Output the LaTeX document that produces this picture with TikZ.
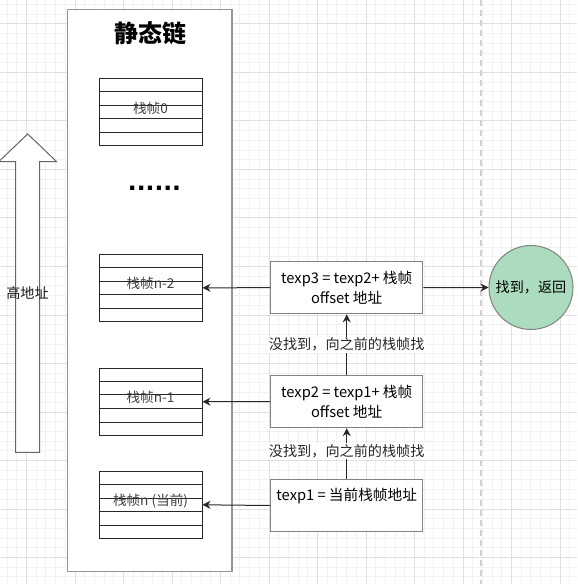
\documentclass[tikz,border=0pt]{standalone}
\usepackage{fontspec}
\setmainfont{Noto Sans CJK SC}
\newfontfamily\dotfont{DejaVu Sans}
\usetikzlibrary{arrows.meta,calc}
\definecolor{gminor}{RGB}{241,241,241}
\definecolor{gmajor}{RGB}{224,224,224}
\definecolor{okgreen}{RGB}{172,220,190}
\definecolor{lineg}{RGB}{40,40,40}
\definecolor{boxg}{RGB}{130,130,130}
\begin{document}
\begin{tikzpicture}[x=0.75pt,y=-0.75pt,
  gridmin/.style={draw=gminor,line width=0.75pt},
  gridmaj/.style={draw=gmajor,line width=0.75pt},
  container/.style={draw=boxg!85,line width=1.3pt,fill=white,minimum width=123.4pt,minimum height=421.5pt,inner sep=0pt},
  stackframe/.style={draw=black!85,line width=0.75pt,fill=white,minimum width=77.25pt,minimum height=50pt,inner sep=0pt},
  flabel/.style={inner sep=0pt,text=black!75,font=\fontsize{10.2}{12}\selectfont},
  texpbox/.style={draw=boxg,line width=1pt,fill=white,minimum width=114pt,minimum height=39pt,inner sep=0pt,align=center,font=\fontsize{11}{15}\selectfont,text=black},
  steplabel/.style={fill=white,inner sep=1pt,font=\fontsize{10.6}{12}\selectfont,text=black!85},
  arr/.style={draw=lineg,line width=0.75pt,-{Stealth[length=6pt,width=6pt]}},
  donecircle/.style={circle,draw=boxg,line width=0.75pt,fill=okgreen,minimum size=63pt,inner sep=0pt,font=\fontsize{10.6}{12}\selectfont}
]
\useasboundingbox (0,0) rectangle (577,584);
\clip (0,0) rectangle (577,584);
% background grid
\fill[white] (0,0) rectangle (577,584);
\foreach \k in {-3,...,57} {\draw[gridmin] ({26.5+9.7*\k},0) -- ({26.5+9.7*\k},584);}
\foreach \k in {-3,...,60} {\draw[gridmin] (0,{24+9.7*\k}) -- (577,{24+9.7*\k});}
\foreach \k in {-1,...,11} {\draw[gridmaj] ({26.5+48.5*\k},0) -- ({26.5+48.5*\k},584);}
\foreach \k in {-1,...,12} {\draw[gridmaj] (0,{24+48.5*\k}) -- (577,{24+48.5*\k});}
% page break dashed line
\coordinate (pbtop) at (481,0);
\coordinate (pbbot) at (481,584);
\draw[draw=black!18,line width=0.9pt,dash pattern=on 4.5pt off 3pt] (pbtop) -- (pbbot);

% big up arrow
\draw[draw=black!60,line width=0.75pt,fill=white] (15.7,452.3) -- (15.7,161.7) -- (-1.3,161.7) -- (27.7,134) -- (56.7,161.7) -- (39.7,161.7) -- (39.7,452.3) -- cycle;
\node[flabel,text=black!90,font=\fontsize{10.6}{12}\selectfont] (high) at (27.5,293.5) {高地址};

% container
\node[container] (chain) at (149.75,290.5) {};
\node[inner sep=0pt,font=\fontsize{18}{20}\selectfont\bfseries] (title) at (150,33) {静态链};

% stack frames
\foreach \nm/\yy in {f0/112.2, fn2/287.8, fn1/401.7, fn/504.8} {
  \node[stackframe] (\nm) at (150.5,\yy) {};
  \foreach \i in {1,2,3,4}
    \draw[black!85,line width=0.75pt] ($(\nm.north west)!\i/5!(\nm.south west)$) -- ($(\nm.north east)!\i/5!(\nm.south east)$);
}
\node[flabel] (f0t) at ([yshift=3pt]f0.center) {栈帧0};
\node[flabel] (fn2t) at ([yshift=3pt]fn2.center) {栈帧n-2};
\node[flabel] (fn1t) at ([yshift=3pt]fn1.center) {栈帧n-1};
\node[flabel] (fnt) at ([yshift=2.5pt]fn.center) {栈帧n (当前)};

\node[inner sep=0pt,font=\dotfont\fontsize{17.5}{20}\selectfont\bfseries] (dots) at (154.5,188.5) {......};

% texp boxes
\node[texpbox] (t3) at (346.7,287.7) {texp3 = texp2+ 栈帧\\offset 地址};
\node[texpbox] (t2) at (346.7,401.5) {texp2 = texp1+ 栈帧\\offset 地址};
\node[texpbox] (t1) at (346.7,505.5) {};
\node[inner sep=0pt,font=\fontsize{11}{12}\selectfont,text=black] (t1t) at (346.7,496) {texp1 = 当前栈帧地址};

% result circle
\node[donecircle] (found) at (531,287.5) {找到，返回};

% connectors
\draw[arr] (t3.west) -- (fn2.east);
\draw[arr] (t2.west) -- (fn1.east);
\draw[arr] (t1.west) -- (fn.east);
\draw[arr] (t3.east) -- (found.west);
\draw[arr] (t1.north) -- node[steplabel,pos=0.55] (l1) {没找到，向之前的栈帧找} (t2.south);
\draw[arr] (t2.north) -- node[steplabel,midway] (l2) {没找到，向之前的栈帧找} (t3.south);
\end{tikzpicture}
\end{document}
